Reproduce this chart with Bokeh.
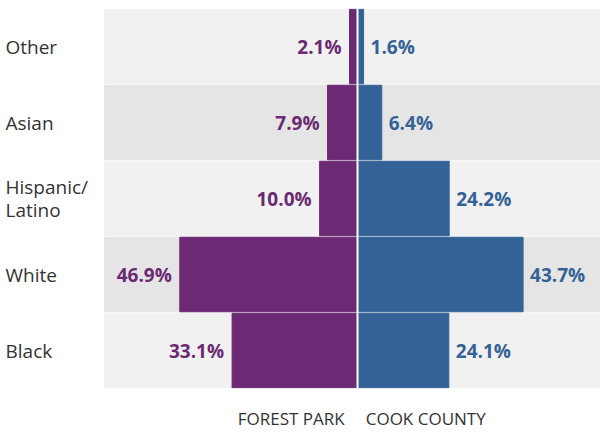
from bokeh.plotting import figure
from bokeh.models import FactorRange, Range1d, Span, FixedTicker, ColumnDataSource
from bokeh.embed import file_html
from bokeh.resources import INLINE
from bokeh.core.properties import value

# ---- data ----
categories = ["Black", "White", "Hispanic/Latino", "Asian", "Other"]
display_labels = ["Black", "White", "Hispanic/\nLatino", "Asian", "Other"]
forest_park = [33.1, 46.9, 10.0, 7.9, 2.1]
cook_county = [24.1, 43.7, 24.2, 6.4, 1.6]
series_names = ["FOREST PARK", "COOK COUNTY"]

PURPLE = "#6b2a73"
BLUE = "#336396"
BG_LIGHT = "#f1f1f1"
BG_DARK = "#e5e5e5"
TEXT = "#333333"
FONT = "Open Sans"

X_START, X_END = -94.22, 64.13
BG_LEFT = -66.77

p = figure(width=600, height=432, output_backend="svg", toolbar_location=None,
           y_range=FactorRange(factors=categories, range_padding=0),
           x_range=Range1d(X_START, X_END),
           min_border_left=0, min_border_right=0, min_border_top=8, min_border_bottom=44)
p.outline_line_color = None
p.background_fill_color = "white"
p.border_fill_color = "white"
p.xgrid.visible = False
p.ygrid.visible = False
p.yaxis.visible = False

bg_colors = [BG_LIGHT if i % 2 == 0 else BG_DARK for i in range(len(categories))]
bg = ColumnDataSource(dict(y=categories, c=bg_colors))
p.hbar(y="y", left=BG_LEFT, right=X_END, height=0.98, color="c", source=bg)

src = ColumnDataSource(dict(
    y=categories,
    fp_left=[-v for v in forest_park],
    cc=cook_county,
    fp_txt=[f"{v:.1f}%" for v in forest_park],
    cc_txt=[f"{v:.1f}%" for v in cook_county],
    lab=display_labels,
))
p.hbar(y="y", left="fp_left", right=0, height=0.98, color=PURPLE, source=src)
p.hbar(y="y", left=0, right="cc", height=0.98, color=BLUE, source=src)
p.add_layout(Span(location=0, dimension="height", line_color="white", line_width=2))

p.text(x="fp_left", y="y", text="fp_txt", source=src, text_align="right",
       text_baseline="middle", x_offset=-8, text_color=PURPLE,
       text_font=value(FONT), text_font_size="19px", text_font_style="bold")
p.text(x="cc", y="y", text="cc_txt", source=src, text_align="left",
       text_baseline="middle", x_offset=7, text_color=BLUE,
       text_font=value(FONT), text_font_size="19px", text_font_style="bold")

p.text(x=X_START, y="y", text="lab", source=src, text_align="left",
       text_baseline="middle", x_offset=5, text_color=TEXT,
       text_font=value(FONT), text_font_size="19px", text_line_height=0.85)

# bottom series labels via the x axis
p.xaxis.ticker = FixedTicker(ticks=[-17.5, 18.0])
p.xaxis.major_label_overrides = {-17.5: series_names[0], 18.0: series_names[1]}
p.xaxis.axis_line_color = None
p.xaxis.major_tick_line_color = None
p.xaxis.minor_tick_line_color = None
p.xaxis.major_tick_out = 0
p.xaxis.major_tick_in = 0
p.xaxis.minor_tick_out = 0
p.xaxis.minor_tick_in = 0
p.xaxis.major_label_standoff = 18
p.xaxis.major_label_text_font = FONT
p.xaxis.major_label_text_font_size = "17px"
p.xaxis.major_label_text_color = TEXT

open("out.html", "w").write(file_html(p, INLINE))
